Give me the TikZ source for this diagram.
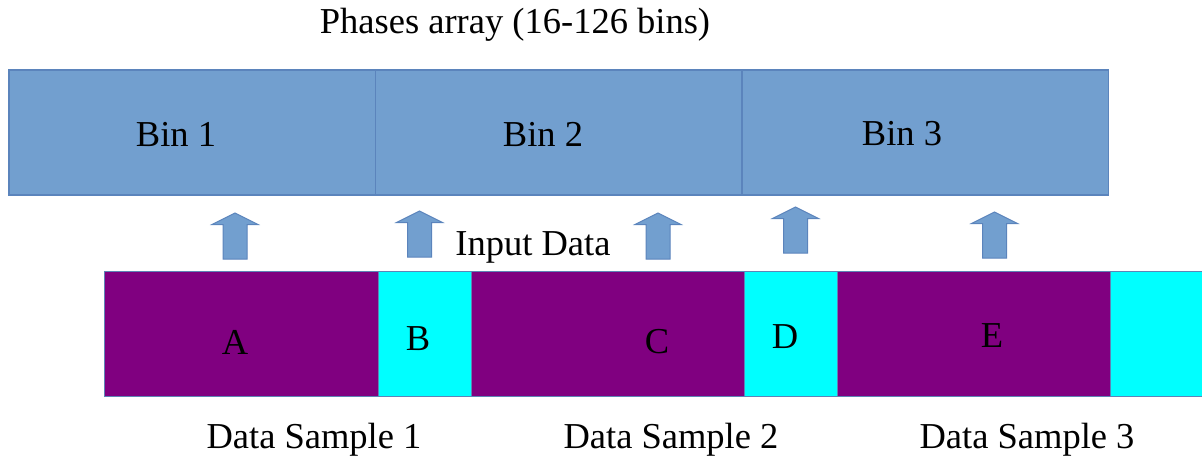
\documentclass[tikz,border=0pt]{standalone}
\usepackage{fontspec}
\setmainfont{Liberation Serif}
\definecolor{binblue}{HTML}{729FCF}
\definecolor{binedge}{HTML}{5B84BC}
\definecolor{purp}{HTML}{800080}
\definecolor{cyn}{HTML}{00FFFF}
\definecolor{baredge}{HTML}{3465A4}
\begin{document}
\begin{tikzpicture}[x=1pt,y=-1pt,
  txt/.style={font=\fontsize{36.5}{40}\selectfont, inner sep=0pt},
  binbox/.style={draw=binedge, fill=binblue, line width=1.2pt, minimum width=366.5pt, minimum height=125pt, inner sep=0pt, outer sep=0pt, anchor=north west},
  seg/.style={draw=baredge!80, line width=1pt, minimum height=125pt, inner sep=0pt, outer sep=0pt, anchor=north west},
  uparrow/.style={fill=binblue, draw=binedge, line width=1pt, line join=miter}]
\useasboundingbox (0,0) rectangle (1202,461);
% title
\node[txt] (title) at (515,25) {Phases array (16-126 bins)};
% bins
\node[binbox] (bin1) at (9,70) {};
\node[binbox] (bin2) at (375.5,70) {};
\node[binbox] (bin3) at (742,70) {};
\node[txt] (t1) at (176,134) {Bin 1};
\node[txt] (t2) at (543,134) {Bin 2};
\node[txt] (t3) at (902,134) {Bin 3};
% input data bar
\node[seg, fill=purp, minimum width=274pt] (A) at (104,271) {};
\node[seg, fill=cyn, minimum width=93pt] (B) at (378,271) {};
\node[seg, fill=purp, minimum width=273pt] (C) at (471,271) {};
\node[seg, fill=cyn, minimum width=93pt] (D) at (744,271) {};
\node[seg, fill=purp, minimum width=273pt] (E) at (837,271) {};
\node[seg, fill=cyn, minimum width=95pt] (F) at (1110,271) {};
\node[txt] (la) at (235,342) {A};
\node[txt] (lb) at (418,339) {B};
\node[txt] (lc) at (657,342) {C};
\node[txt] (ld) at (785,337) {D};
\node[txt] (le) at (992,336) {E};
% label
\node[txt] (input) at (533,247) {Input Data};
% arrows: center x, tip y, bottom y
\foreach \cx/\ty/\by in {235/213/259, 419.5/211/257, 658/213/259, 795.5/207/253, 994.5/212/258}{
  \draw[uparrow] (\cx,\ty) -- (\cx+23,\ty+11.5) -- (\cx+12,\ty+11.5) -- (\cx+12,\by)
     -- (\cx-12,\by) -- (\cx-12,\ty+11.5) -- (\cx-23,\ty+11.5) -- cycle;
}
% sample labels
\node[txt] (s1) at (314,440) {Data Sample 1};
\node[txt] (s2) at (671,440) {Data Sample 2};
\node[txt] (s3) at (1027,440) {Data Sample 3};
\end{tikzpicture}
\end{document}
